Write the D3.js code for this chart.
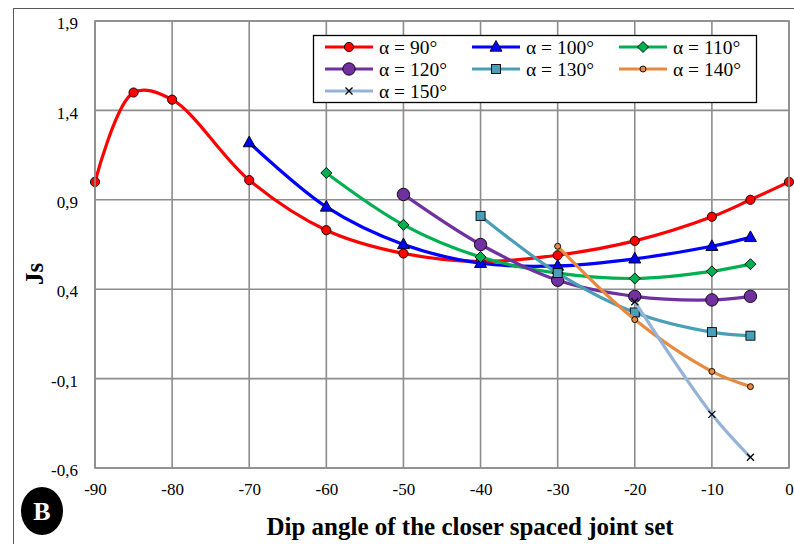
<!DOCTYPE html>
<html>
<head>
<meta charset="utf-8">
<script src="https://cdn.jsdelivr.net/npm/d3@7"></script>
<style>
  html, body { margin:0; padding:0; background:#fff; }
  svg { display:block; font-family:"Liberation Serif", "Times New Roman", serif; }
  svg text { font-family:"Liberation Serif", "Times New Roman", serif; }
</style>
</head>
<body>
<svg id="chart" width="794" height="544"></svg>
<script>
// Data (Js vs dip angle, one series per alpha)
const xTicks = [-90, -80, -70, -60, -50, -40, -30, -20, -10, 0];
const yTicks = [1.9, 1.4, 0.9, 0.4, -0.1, -0.6];

const x90  = [-90, -85, -80, -70, -60, -50, -40, -30, -20, -10, -5, 0];
const js90 = [1.0, 1.5, 1.46, 1.01, 0.73, 0.6, 0.555, 0.59, 0.67, 0.805, 0.9, 1.0];
const x100  = [-70, -60, -50, -40, -30, -20, -10, -5];
const js100 = [1.22, 0.86, 0.65, 0.545, 0.53, 0.57, 0.64, 0.69];
const x110  = [-60, -50, -40, -30, -20, -10, -5];
const js110 = [1.05, 0.76, 0.58, 0.49, 0.46, 0.5, 0.54];
const x120  = [-50, -40, -30, -20, -10, -5];
const js120 = [0.93, 0.65, 0.45, 0.36, 0.34, 0.36];
const x130  = [-40, -30, -20, -10, -5];
const js130 = [0.81, 0.49, 0.27, 0.16, 0.14];
const x140  = [-30, -20, -10, -5];
const js140 = [0.64, 0.23, -0.06, -0.145];
const x150  = [-20, -10, -5];
const js150 = [0.33, -0.30, -0.54];

const labels = ['α = 90°', 'α = 100°', 'α = 110°', 'α = 120°', 'α = 130°', 'α = 140°', 'α = 150°'];
const colors = ['#ff0000', '#0000ff', '#00b050', '#7030a0', '#4a9fb8', '#e8893e', '#95b3d7'];
const markers = ['circle', 'triangle', 'diamond', 'bigcircle', 'square', 'smallcircle', 'cross'];

const series = [
  [x90, js90], [x100, js100], [x110, js110], [x120, js120],
  [x130, js130], [x140, js140], [x150, js150]
].map(([xs, ys], i) => ({
  label: labels[i], color: colors[i], marker: markers[i],
  pts: xs.map((d, j) => ({ x: d, y: ys[j] }))
}));

const svg = d3.select('#chart');
const plot = { left:95, top:21, right:789, bottom:468 };

const x = d3.scaleLinear().domain([-90, 0]).range([plot.left, plot.right]);
const y = d3.scaleLinear().domain([-0.6, 1.9]).range([plot.bottom, plot.top]);

// outer frame of the figure
svg.append('rect').attr('x', 13.5).attr('y', 8.5).attr('width', 800).attr('height', 560)
  .attr('fill', 'none').attr('stroke', '#595959').attr('stroke-width', 1);

// gridlines
const grid = svg.append('g').attr('stroke', '#8c8c8c').attr('stroke-width', 1.6);
grid.selectAll('.vx').data(xTicks).join('line')
  .attr('x1', d => x(d)).attr('x2', d => x(d))
  .attr('y1', plot.top).attr('y2', plot.bottom);
grid.selectAll('.hy').data(yTicks).join('line')
  .attr('x1', plot.left).attr('x2', plot.right)
  .attr('y1', d => y(d)).attr('y2', d => y(d));

// axis labels
const fmt = d => d3.format('.1f')(d).replace('.', ',').replace('−', '-');
const ax = svg.append('g').attr('transform', `translate(0,${plot.bottom})`)
  .call(d3.axisBottom(x).tickValues(xTicks).tickSize(0).tickPadding(15).tickFormat(d => String(d)));
const ay = svg.append('g').attr('transform', `translate(${plot.left},0)`)
  .call(d3.axisLeft(y).tickValues(yTicks).tickSize(0).tickPadding(17).tickFormat(fmt));
[ax, ay].forEach(g => {
  g.attr('font-family', null).attr('font-size', null);
  g.select('.domain').remove();
  g.selectAll('text').attr('font-size', 17).attr('fill', '#000');
});
ay.selectAll('text').attr('dy', '0.45em');

// series
const line = d3.line().x(d => x(d.x)).y(d => y(d.y)).curve(d3.curveCatmullRom.alpha(0.5));

function drawMarker(g, type, color, cx, cy) {
  const s = { stroke:'#000', 'stroke-width':0.9 };
  let el;
  if (type === 'circle') el = g.append('circle').attr('r', 4.6).attr('fill', color);
  else if (type === 'bigcircle') el = g.append('circle').attr('r', 6.2).attr('fill', color);
  else if (type === 'smallcircle') el = g.append('circle').attr('r', 3).attr('fill', color);
  else if (type === 'triangle') el = g.append('path').attr('d', 'M0,-6.5L6,4.2L-6,4.2Z').attr('fill', color);
  else if (type === 'diamond') el = g.append('path').attr('d', 'M0,-5.5L5.5,0L0,5.5L-5.5,0Z').attr('fill', color);
  else if (type === 'square') el = g.append('rect').attr('x', -4.5).attr('y', -4.5).attr('width', 9).attr('height', 9).attr('fill', color);
  else if (type === 'cross') {
    el = g.append('path').attr('d', 'M-3.5,-3.5L3.5,3.5M-3.5,3.5L3.5,-3.5').attr('fill', 'none');
    s['stroke-width'] = 1.3;
  }
  Object.entries(s).forEach(([k, v]) => el.attr(k, v));
  el.attr('transform', `translate(${cx},${cy})`);
}

series.forEach(sr => {
  const g = svg.append('g');
  g.append('path').datum(sr.pts).attr('d', line)
    .attr('fill', 'none').attr('stroke', sr.color).attr('stroke-width', 3.2)
    .attr('stroke-linejoin', 'round');
  sr.pts.forEach(p => drawMarker(g, sr.marker, sr.color, x(p.x), y(p.y)));
});

// plot area border
svg.append('rect').attr('x', plot.left).attr('y', plot.top)
  .attr('width', plot.right - plot.left).attr('height', plot.bottom - plot.top)
  .attr('fill', 'none').attr('stroke', '#8c8c8c').attr('stroke-width', 1.6);

// legend
const lg = svg.append('g');
lg.append('rect').attr('x', 313.5).attr('y', 35.5).attr('width', 443).attr('height', 67)
  .attr('fill', '#fff').attr('stroke', '#000').attr('stroke-width', 1.3);
series.forEach((sr, i) => {
  const col = i % 3, row = Math.floor(i / 3);
  const lx = 325 + col * 147, ly = 47 + row * 22;
  lg.append('line').attr('x1', lx).attr('x2', lx + 48).attr('y1', ly).attr('y2', ly)
    .attr('stroke', sr.color).attr('stroke-width', 3.2);
  drawMarker(lg, sr.marker, sr.color, lx + 24, ly);
  lg.append('text').attr('x', lx + 54).attr('y', ly).attr('dy', '0.35em')
    .attr('font-size', 19.5).text(sr.label);
});

// axis titles
svg.append('text').attr('x', 470).attr('y', 535).attr('text-anchor', 'middle')
  .attr('font-size', 25).attr('font-weight', 'bold')
  .text('Dip angle of the closer spaced joint set');
svg.append('text').attr('transform', 'translate(43,274) rotate(-90)')
  .attr('text-anchor', 'middle').attr('font-size', 25).attr('font-weight', 'bold').text('Js');

// panel badge
svg.append('ellipse').attr('cx', 42).attr('cy', 511).attr('rx', 21).attr('ry', 24).attr('fill', '#000');
svg.append('text').attr('x', 42).attr('y', 511).attr('dy', '0.35em').attr('text-anchor', 'middle')
  .attr('font-size', 26).attr('font-weight', 'bold').attr('fill', '#fff').text('B');
</script>
</body>
</html>
